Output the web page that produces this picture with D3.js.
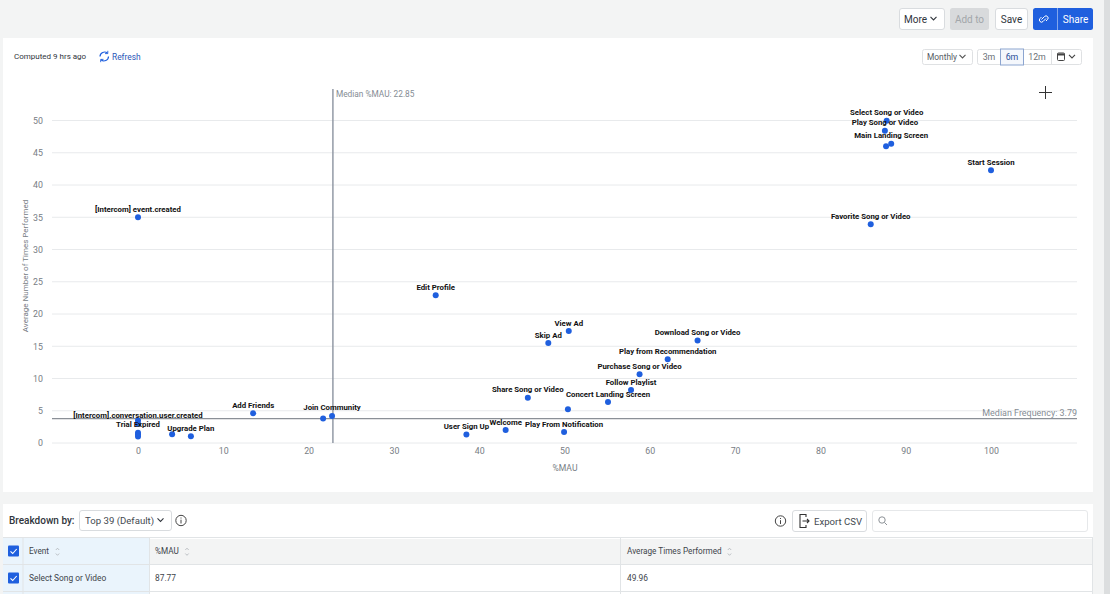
<!DOCTYPE html>
<html><head><meta charset="utf-8"><script src="https://cdn.jsdelivr.net/npm/d3@7"></script>
<style>html,body{margin:0;padding:0;background:#f3f4f4;overflow:hidden}svg{display:block}text{font-family:Roboto,sans-serif}</style></head>
<body><svg id="c" width="1110" height="594"></svg>
<script>
const eventNames=["Select Song or Video","Play Song or Video","Main Landing Screen","","Start Session","Favorite Song or Video","[Intercom] event.created","Edit Profile","View Ad","Skip Ad","Download Song or Video","Play from Recommendation","Purchase Song or Video","Follow Playlist","Share Song or Video","Concert Landing Screen","","User Sign Up","Welcome","Play From Notification","Add Friends","Join Community","","[Intercom].conversation.user.created","","Trial Expired","","","Upgrade Plan",""];
const mauValues=[87.77,87.56,88.3,87.7,100,85.9,0,34.9,50.5,48.1,65.6,62.1,58.8,57.8,45.7,55.1,50.4,38.5,43.1,49.95,13.5,22.75,21.7,0,0,0,0,0,6.2,4.0];
const avgValues=[49.96,48.4,46.4,46.0,42.3,33.9,35,22.9,17.35,15.5,15.9,13,10.65,8.2,7,6.35,5.25,1.3,2,1.7,4.6,4.2,3.8,3.0,3.5,1.6,1.3,1.0,1.05,1.35];
const xTicks=[0,10,20,30,40,50,60,70,80,90,100];
const yTicks=[0,5,10,15,20,25,30,35,40,45,50];
const medianMau=22.85, medianFreq=3.79;
const rangeButtons=["3m","6m","12m"];
const tableHeaders=["Event","%MAU","Average Times Performed"];
const tableRow=["Select Song or Video","87.77","49.96"];

const svg=d3.select("#c");
const x=d3.scaleLinear().domain([0,100]).range([138,991]);
const y=d3.scaleLinear().domain([0,50]).range([443,120.5]);
const L=52,R=1077,T=89;
const FG="#30353c",BL="#1f5fde";
function rect(a,b,w,h,f,s,r){return svg.append("rect").attr("x",a).attr("y",b).attr("width",w).attr("height",h).attr("fill",f||"none").attr("stroke",s||"none").attr("rx",r||0);}
function txt(a,b,t,sz,c,anc,w){return svg.append("text").attr("x",a).attr("y",b).text(t).attr("font-size",sz).attr("fill",c||FG).attr("text-anchor",anc||"start").attr("font-weight",w||400).attr("dominant-baseline","central");}
function path(d,c,w){return svg.append("path").attr("d",d).attr("fill","none").attr("stroke",c||FG).attr("stroke-width",w||1);}
function chev(a,b,c){path(`M${a-3},${b-1.6}L${a},${b+1.4}L${a+3},${b-1.6}`,c||FG,1.1);}
function info(a,b){svg.append("circle").attr("cx",a).attr("cy",b).attr("r",5.2).attr("fill","none").attr("stroke","#444").attr("stroke-width",1);path(`M${a},${b-.8}V${b+3}`,"#444",1);path(`M${a},${b-3}V${b-2}`,"#444",1);}

// scrollbar strip
rect(1104,0,6,594,"#dcdedf");
// top bar
rect(899.5,8.5,45,21,"#fff","#d9dcdf",2.5);txt(904,19,"More",10);chev(933.5,18.5);
rect(950,8,39,22,"#d8dadc",null,2.5);txt(969.5,19,"Add to",10,"#a2a6aa","middle");
rect(995.5,8.5,32,21,"#fff","#d9dcdf",2.5);txt(1011.5,19,"Save",10,FG,"middle");
rect(1033,8,60,22,BL,null,2.5);path("M1057.5,8V30","#9db9f0",.8);txt(1075.5,19,"Share",10,"#fff","middle");
path("M1041.5,19.5l3,-3a2,2 0 0 1 3,3l-1.5,1.5M1046,18.5l-3,3a2,2 0 0 1 -3,-3l1.5,-1.5","#fff",1);

// card 1
rect(3,38,1090,454,"#fff");
txt(14,56.5,"Computed 9 hrs ago",8,FG);
path("M100,56.5a4.5,4.5 0 0 1 7.5,-3.3M108.5,56.5a4.5,4.5 0 0 1 -7.5,3.3",BL,1.2);
path("M107.8,50.8v2.8h-2.8M100.7,62.2v-2.8h2.8",BL,.9);
txt(112,56.5,"Refresh",8.4,"#2a57b8");
rect(922.5,49.5,50,15,"#fff","#dfe1e3",2);txt(927,56.8,"Monthly",8.4,"#555b62");chev(962.5,56.5,"#555");
rect(977.5,49.5,104,15,"#fff","#dfe1e3",2);
const rx=[989,1012,1037];
rangeButtons.forEach((t,i)=>{if(i!=1)txt(rx[i],56.8,t,8.8,"#6b7178","middle");});
rect(1000.5,49,23,16,"#f4f7fc","#8ca5d0");txt(rx[1],56.8,rangeButtons[1],8.8,"#2a4f9a","middle");
path("M1051.5,49.5V64.5","#dfe1e3",1);
rect(1057.5,53,7,7.5,"none","#444",1);path("M1057.5,54.5H1064.5","#444",2);chev(1072,56.5,"#444");
path("M1039,92.5H1052M1045.5,86V99","#333",1);

// chart
const gridG=svg.append("g");
gridG.selectAll("line").data(yTicks).join("line").attr("x1",L).attr("x2",R).attr("y1",d=>y(d)).attr("y2",d=>y(d)).attr("stroke","#e8eaec").attr("stroke-width",1);
const ax=svg.append("g").attr("transform","translate(0,447)").call(d3.axisBottom(x).tickValues(xTicks).tickSize(0).tickPadding(1));
const ay=svg.append("g").attr("transform","translate(43,0)").call(d3.axisLeft(y).tickValues(yTicks).tickSize(0).tickPadding(0));
[ax,ay].forEach(g=>{g.select(".domain").remove();g.selectAll("text").attr("font-size",8.8).attr("fill","#777d84").attr("font-family","Roboto,sans-serif");});
txt(565,467.5,"%MAU",8.6,"#777d84","middle");
txt(25,266,"Average Number of Times Performed",8,"#777d84","middle").attr("transform","rotate(-90 25 266)");
svg.append("line").attr("x1",x(medianMau)).attr("x2",x(medianMau)).attr("y1",T).attr("y2",y(0)).attr("stroke","#8b93a0").attr("stroke-width",1.4);
svg.append("line").attr("x1",L).attr("x2",R).attr("y1",y(medianFreq)).attr("y2",y(medianFreq)).attr("stroke","#8b9097").attr("stroke-width",1.2);
txt(x(medianMau)+3,94,"Median %MAU: "+medianMau,8.3,"#858c94");
txt(R,412.5,"Median Frequency: "+medianFreq,8.95,"#858c94","end");
const pts=eventNames.map((n,i)=>({n,a:mauValues[i],b:avgValues[i]}));
svg.append("g").selectAll("circle").data(pts).join("circle").attr("cx",d=>x(d.a)).attr("cy",d=>y(d.b)).attr("r",3).attr("fill",BL);
svg.append("g").selectAll("text").data(pts.filter(d=>d.n)).join("text").attr("x",d=>x(d.a)).attr("y",d=>y(d.b)-8).text(d=>d.n).attr("text-anchor","middle").attr("dominant-baseline","central").attr("font-size",7.8).attr("font-weight",700).attr("fill","#111");

// card 2
rect(3,504,1090,90,"#fff");
txt(9,520.5,"Breakdown by:",10,FG,"start",500);
rect(79.5,510.5,92,20,"#fff","#d9dcdf",2.5);txt(85,520.5,"Top 39 (Default)",9.6,"#444a51");chev(160.5,520);
info(181,520.5);info(780.5,521);
rect(792.5,510.5,74,21,"#fff","#d9dcdf",2.5);
path("M806,517V514.5H800V527.5H806V525M802.5,521H809M807,519l2,2l-2,2","#333",1.1);txt(814,521,"Export CSV",9.6,"#444a51");
rect(872.5,510.5,215,21,"#fff","#e6e8ea",2.5);
svg.append("circle").attr("cx",882).attr("cy",520).attr("r",3.2).attr("fill","none").attr("stroke","#8d9297");path("M884.5,522.5L887,525","#8d9297",1);

// table
rect(3,538,1090,56,"#fff");
rect(3,538,147,56,"#eaf4fc");
rect(150,539,943,26,"#f3f4f4");
[[3,1093,537],[3,1093,564],[3,1093,591]].forEach(l=>path(`M${l[0]},${l[2]+.5}H${l[1]}`,"#e1e4e6",1));
[23,149.5,620.5,1092.5].forEach(a=>path(`M${a},538V594`,"#e1e4e6",1));
function check(a,b){rect(a,b,11,11,BL,null,1);path(`M${a+2.5},${b+5.8}l2.2,2.2l4,-4.5`,"#fff",1.1);}
check(8,545.5);check(8,572.5);
const hx=[29,155,627], sx=[57.5,187,729.5];
tableHeaders.forEach((t,i)=>{txt(hx[i],551,t,8.2,"#3e444b");path(`M${sx[i]-1.7},550l1.7,-1.8l1.7,1.8M${sx[i]-1.7},553.5l1.7,1.8l1.7,-1.8`,"#aeb3b8",.8);});
tableRow.forEach((t,i)=>txt(hx[i],578,t,8.4,"#3e444b"));
</script></body></html>
